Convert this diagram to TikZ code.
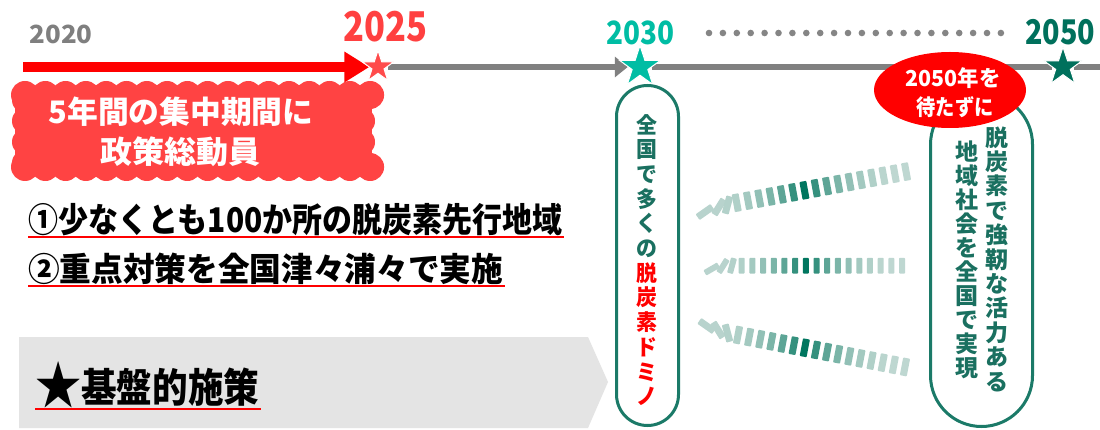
\documentclass[tikz,border=0pt]{standalone}
\usepackage{fontspec}
\usepackage{graphicx}
\setmainfont{Noto Sans CJK JP}
\usetikzlibrary{shapes.geometric,arrows.meta}
\pgfdeclarelayer{bg}
\pgfsetlayers{bg,main}
\definecolor{tlgray}{HTML}{808080}
\definecolor{yr20}{HTML}{7F7F7F}
\definecolor{yr25}{HTML}{FF4040}
\definecolor{st25}{HTML}{FF4B4B}
\definecolor{teal30}{HTML}{00BDA4}
\definecolor{dk50}{HTML}{00705C}
\definecolor{arrred}{HTML}{FF0000}
\definecolor{boxred}{HTML}{FF4343}
\definecolor{chev}{HTML}{E4E4E4}
\definecolor{pillc}{HTML}{1B7A68}
\definecolor{pilltxt}{HTML}{1A7060}
\definecolor{dom}{HTML}{00765F}
\definecolor{domlt}{HTML}{D8E4E0}
\definecolor{dotc}{HTML}{858585}
\tikzset{
  lbl/.style={inner sep=0, font=\bfseries},
  yearstar/.style={star, star points=5, star point ratio=2.6, inner sep=0, draw=white, line width=1pt},
  tl/.style={tlgray, line width=6pt},
  ul/.style={arrred, line width=2pt},
  domino/.style={rectangle, inner sep=0, rounded corners=0.8pt},
  pill/.style={rectangle, draw=pillc, line width=3pt, fill=white, inner sep=0},
  vtxt/.style n args={2}{inner sep=0, align=center, font=\bfseries\fontsize{#1}{#2}\selectfont},
}
\begin{document}
\begin{tikzpicture}[x=1pt,y=-1pt]
\useasboundingbox (0,0) rectangle (1100,430);
\begin{pgfonlayer}{bg}
\fill[white] (0,0) rectangle (1100,430);
\end{pgfonlayer}

% ---------- timeline ----------
\node[yearstar, fill=st25, minimum size=33pt] (s25) at (378,67) {};
\node[yearstar, fill=teal30, minimum size=43pt] (s30) at (640,67) {};
\node[yearstar, fill=dk50, minimum size=40pt] (s50) at (1063,67) {};
\coordinate (t0) at (23,67);
\coordinate (t1) at (1100,67);
\begin{pgfonlayer}{bg}
\draw[arrred, line width=10pt, -{Triangle[length=25pt,width=29pt]}, shorten >=-1pt] (t0) -- (s25);
\draw[tl, -{Triangle[length=13pt,width=20pt]}] (s25) -- (s30);
\draw[tl] (s30) -- (s50);
\draw[tl] (s50) -- (t1);
\end{pgfonlayer}

\node[lbl, text=yr20, font=\bfseries\fontsize{25}{25}\selectfont] (y20) at (61,34) {\resizebox{63pt}{\height}{2020}};
\node[lbl, text=yr25, font=\bfseries\fontsize{41}{41}\selectfont] (y25) at (385,27) {\resizebox{84pt}{\height}{2025}};
\node[lbl, text=teal30, font=\bfseries\fontsize{32}{32}\selectfont] (y30) at (640,33) {\resizebox{68pt}{\height}{2030}};
\node[lbl, text=dk50, font=\bfseries\fontsize{34}{34}\selectfont] (y50) at (1060,32.5) {\resizebox{70pt}{\height}{2050}};

% dotted line
\foreach \k in {0,...,21}{
  \fill[dotc] (709+\k*13.9,33) circle (3.3);
}

% ---------- red scalloped box ----------
\fill[boxred] (15,86) rectangle (372,176);
\foreach \k in {0,...,17}{
  \fill[boxred] (25+\k*20.3,95) circle (14);
  \fill[boxred] (25+\k*20.3,167) circle (14);
}
\foreach \k in {0,...,3}{
  \fill[boxred] (26,100+\k*21) circle (14);
  \fill[boxred] (361,100+\k*21) circle (14);
}
\node[lbl, text=white, font=\bfseries\fontsize{31}{31}\selectfont] (b1) at (181,112) {\resizebox{265pt}{\height}{5年間の集中期間に}};
\node[lbl, text=white, font=\bfseries\fontsize{31}{31}\selectfont] (b2) at (180,152) {\resizebox{160pt}{\height}{政策総動員}};

% ---------- two lines ----------
\node[lbl, anchor=west, font=\bfseries\fontsize{34}{34}\selectfont] (r1) at (28,220) {\resizebox{534pt}{\height}{①少なくとも100か所の脱炭素先行地域}};
\draw[ul] ([yshift=-1pt]r1.south west) -- ([yshift=-1pt,xshift=2pt]r1.south east);
\node[lbl, anchor=west, font=\bfseries\fontsize{33}{33}\selectfont] (r2) at (28,269) {\resizebox{475pt}{\height}{②重点対策を全国津々浦々で実施}};
\draw[ul] ([yshift=-1pt]r2.south west) -- ([yshift=-1pt,xshift=2pt]r2.south east);

% ---------- grey chevron ----------
\fill[chev] (19,337) -- (588,337) -- (608,382) -- (588,428) -- (19,428) -- cycle;
\node[lbl, anchor=west, font=\bfseries\fontsize{40}{40}\selectfont] (r3) at (35,385) {\resizebox{224pt}{\height}{\raisebox{-2pt}{\scalebox{1.3}{★}}基盤的施策}};
\draw[ul] ([yshift=-1pt]r3.south west) -- ([yshift=-1pt,xshift=2pt]r3.south east);

% ---------- pills ----------
\node[pill, minimum width=62pt, minimum height=340pt, rounded corners=31pt] (p1) at (647.5,255.5) {};
\node[vtxt={22}{24.7}, text=pilltxt, xscale=0.95] (p1t) at (647,260) {全\\国\\で\\多\\く\\の\\\textcolor{arrred}{脱}\\\textcolor{arrred}{炭}\\\textcolor{arrred}{素}\\\textcolor{arrred}{ド}\\\textcolor{arrred}{ミ}\\\textcolor{arrred}{ノ}};

\node[pill, minimum width=102pt, minimum height=333pt, rounded corners=51pt] (p2) at (981.5,260) {};
\node[vtxt={23}{24.4}, text=pilltxt] (p2a) at (997,259) {脱\\炭\\素\\で\\強\\靭\\な\\活\\力\\あ\\る};
\node[vtxt={23}{24}, text=pilltxt] (p2b) at (967,260) {地\\域\\社\\会\\を\\全\\国\\で\\実\\現};

\node[ellipse, fill=arrred, minimum width=152pt, minimum height=76pt, inner sep=0] (el) at (950,90) {};
\node[lbl, text=white, font=\bfseries\fontsize{22}{22}\selectfont] (e1) at (953,78) {\resizebox{95pt}{\height}{2050年を}};
\node[lbl, text=white, font=\bfseries\fontsize{22}{22}\selectfont] (e2) at (955,107) {\resizebox{77pt}{\height}{待たずに}};

% ---------- dominoes ----------
% row 1 (rising)
\foreach \i in {0,...,15}{
  \pgfmathsetmacro\p{max(12,100*exp(-0.28*abs(\i-6)))}
  \node[domino, minimum width=7pt, minimum height=18pt, rotate=10.4, fill=dom!\p!domlt] (da\i) at (736.7+\i*11.29,202.7-\i*2.07) {};
}
\node[domino, minimum width=7pt, minimum height=18pt, rotate=-55, fill=dom!15!domlt] (dfa1) at (705,212) {};
\node[domino, minimum width=7pt, minimum height=18pt, rotate=-32, fill=dom!15!domlt] (dfa2) at (719,207) {};
\node[domino, minimum width=7pt, minimum height=18pt, rotate=-15, fill=dom!17!domlt] (dfa3) at (727.5,205) {};
% row 2 (level)
\foreach \i in {0,...,15}{
  \pgfmathsetmacro\p{max(12,100*exp(-0.28*abs(\i-6)))}
  \node[domino, minimum width=6pt, minimum height=15.7pt, fill=dom!\p!domlt] (db\i) at (741.7+\i*10.69,265.7) {};
}
\node[domino, minimum width=6pt, minimum height=15.7pt, rotate=-60, fill=dom!15!domlt] (dfb1) at (711.7,269) {};
\node[domino, minimum width=6pt, minimum height=15.7pt, rotate=-32, fill=dom!15!domlt] (dfb2) at (723,266) {};
\node[domino, minimum width=6pt, minimum height=15.7pt, rotate=-15, fill=dom!17!domlt] (dfb3) at (732,265.7) {};
% row 3 (falling)
\foreach \i in {0,...,15}{
  \pgfmathsetmacro\p{max(12,100*exp(-0.28*abs(\i-6)))}
  \node[domino, minimum width=7pt, minimum height=18pt, rotate=-10.8, fill=dom!\p!domlt] (dc\i) at (738+\i*11.13,335+\i*2.13) {};
}
\node[domino, minimum width=7pt, minimum height=18pt, rotate=55, fill=dom!15!domlt] (dfc1) at (706.7,326) {};
\node[domino, minimum width=7pt, minimum height=18pt, rotate=32, fill=dom!15!domlt] (dfc2) at (718,330) {};
\node[domino, minimum width=7pt, minimum height=18pt, rotate=15, fill=dom!17!domlt] (dfc3) at (727.5,333) {};
\end{tikzpicture}
\end{document}
